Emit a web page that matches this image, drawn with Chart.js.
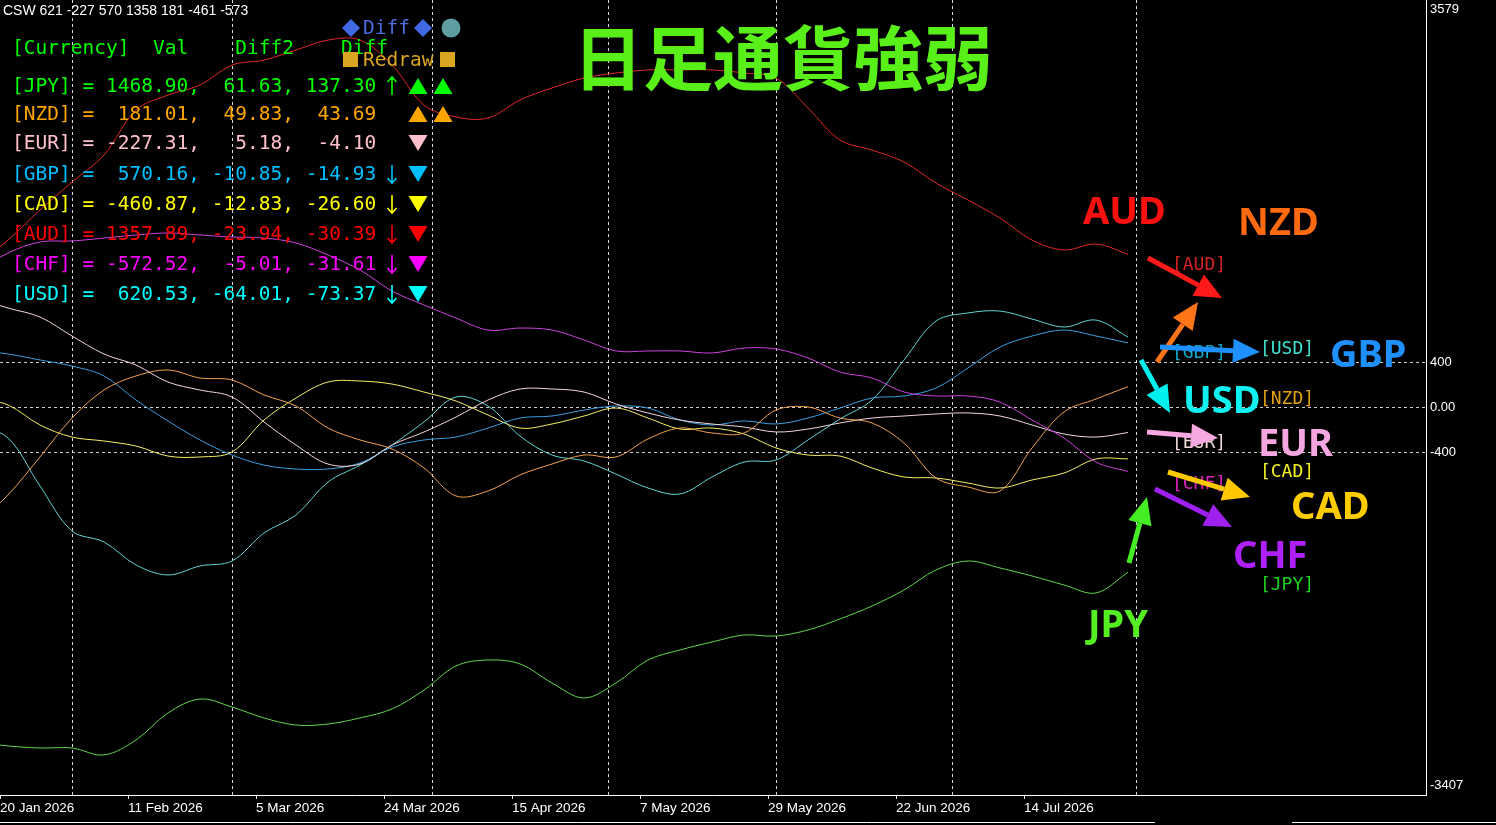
<!DOCTYPE html>
<html>
<head>
<meta charset="utf-8">
<title>日足通貨強弱</title>
<script src="https://cdn.jsdelivr.net/npm/chart.js@4.4.1/dist/chart.umd.min.js"></script>
<style>
  html, body { margin: 0; padding: 0; background: #000; overflow: hidden; }
  canvas { display: block; }
</style>
</head>
<body>
<canvas id="cswChart" width="1496" height="825"></canvas>
<script>
// bar index of every sample (daily bars)
const bars = [-3, 1, 5, 9, 13, 17, 21, 25, 29, 33, 37, 41, 45, 49, 53, 57, 61, 65, 69,
  73, 77, 81, 85, 89, 93, 97, 101, 105, 109, 113, 117, 121, 125, 129, 133, 137, 141];
const tickBars = [0, 16, 32, 48, 64, 80, 96, 112, 128];
const tickDates = ["20 Jan 2026", "11 Feb 2026", "5 Mar 2026", "24 Mar 2026", "15 Apr 2026",
  "7 May 2026", "29 May 2026", "22 Jun 2026", "14 Jul 2026"];
const monthBars = [9, 29, 54, 76, 97, 119, 142];
const yTicks = [3579, 400, 0, -400, -3407];

// strength lines
const aud = [1262, 1484, 1751, 2000, 2240, 2640, 2773, 2862, 3040, 3084, 3173, 3262, 3262, 3040, 2684, 2578, 2569,
  2729, 2836, 2924, 2969, 2996, 2996, 2996, 2969, 2924, 2658, 2373, 2284, 2178, 1991, 1840, 1680, 1484, 1396, 1449, 1358];
const gbp = [507, 471, 418, 364, 276, 62, -124, -293, -427, -516, -551, -551, -498, -356, -293, -267, -187, -98, -80,
  -27, 9, -9, -116, -160, -124, -151, -98, -9, 80, 98, 169, 347, 533, 631, 684, 631, 570];
const usd = [-160, -276, -702, -1102, -1200, -1404, -1493, -1413, -1369, -1120, -960, -667, -516, -338, -133, 89, 9,
  -258, -427, -480, -596, -720, -773, -622, -489, -471, -293, -107, 62, 418, 764, 836, 853, 782, 711, 773, 621];
const eur = [969, 880, 800, 631, 471, 373, 222, 151, 89, -133, -338, -507, -507, -338, -222, -89, 62, 160, 160, 133,
  27, -53, -116, -151, -178, -222, -196, -142, -98, -80, -62, -53, -80, -160, -240, -267, -227];
const cad = [80, 18, -160, -267, -302, -347, -436, -444, -400, -116, 80, 222, 231, 204, 133, 53, -71, -187, -151, -80,
  -9, -98, -196, -187, -240, -364, -427, -436, -542, -622, -631, -676, -720, -649, -587, -462, -461];
const nzd = [-1049, -782, -444, -98, 151, 276, 329, 258, 240, 107, 9, -187, -293, -373, -542, -791, -747, -604, -507,
  -427, -444, -284, -187, -231, -231, -27, 0, -98, -142, -320, -631, -711, -747, -364, -44, 71, 181];
const chf = [1200, 1369, 1467, 1476, 1502, 1529, 1547, 1529, 1511, 1502, 1458, 1351, 1218, 1031, 907, 791, 684, 702,
  684, 596, 498, 498, 498, 480, 524, 516, 436, 311, 258, 133, 98, 98, 44, -116, -276, -489, -573];
const jpy = [-2978, -3013, -3031, -3031, -3093, -2960, -2720, -2596, -2667, -2764, -2827, -2818, -2764, -2684, -2516,
  -2302, -2249, -2284, -2453, -2587, -2453, -2249, -2160, -2089, -2027, -2036, -1982, -1884, -1769, -1627, -1449,
  -1369, -1431, -1502, -1582, -1653, -1469];

// legend table
const currencies = ["JPY", "NZD", "EUR", "GBP", "CAD", "AUD", "CHF", "USD"];
const values = [1468.90, 181.01, -227.31, 570.16, -460.87, 1357.89, -572.52, 620.53];
const diff2 = [61.63, 49.83, 5.18, -10.85, -12.83, -23.94, -5.01, -64.01];
const diff1 = [137.30, 43.69, -4.10, -14.93, -26.60, -30.39, -31.61, -73.37];
const trend = ["up", "", "", "down", "down", "down", "down", "down"];
const marks = [["up", "up"], ["up", "up"], ["down"], ["down"], ["down"], ["down"], ["down"], ["down"]];
const textColors = ["#00ff00", "#ffa500", "#ffc0cb", "#00bfff", "#ffff00", "#ff0000", "#ff00ff", "#00ffff"];

const series = [
  { label: "AUD", data: aud, color: "#e02828" },
  { label: "JPY", data: jpy, color: "#5fd34a" },
  { label: "CHF", data: chf, color: "#cf3fdc" },
  { label: "NZD", data: nzd, color: "#f0a050" },
  { label: "CAD", data: cad, color: "#f2ee66" },
  { label: "EUR", data: eur, color: "#f2d4dc" },
  { label: "GBP", data: gbp, color: "#3a9ee0" },
  { label: "USD", data: usd, color: "#5fd3d3" },
];

const MONO = '"DejaVu Sans Mono", "Liberation Mono", monospace';
const xMax = 1426 / 8;
const rowY = [87, 115, 144, 175, 205, 235, 265, 295];

function mono(ctx, str, x, y, adv, color) {
  ctx.fillStyle = color;
  for (let i = 0; i < str.length; i++) {
    if (str[i] !== " ") ctx.fillText(str[i], x + i * adv + adv / 2, y);
  }
}

function tri(ctx, cx, cy, dir, color) {
  const w = 19, h = 16;
  ctx.fillStyle = color;
  ctx.beginPath();
  if (dir === "up") {
    ctx.moveTo(cx, cy - h / 2); ctx.lineTo(cx + w / 2, cy + h / 2); ctx.lineTo(cx - w / 2, cy + h / 2);
  } else {
    ctx.moveTo(cx, cy + h / 2); ctx.lineTo(cx + w / 2, cy - h / 2); ctx.lineTo(cx - w / 2, cy - h / 2);
  }
  ctx.closePath();
  ctx.fill();
}

// thin text-like arrow (↑ / ↓)
function thinArrow(ctx, cx, cy, dir, color) {
  const s = dir === "up" ? -1 : 1;
  ctx.strokeStyle = color;
  ctx.lineWidth = 1.6;
  ctx.beginPath();
  ctx.moveTo(cx, cy - 9 * s); ctx.lineTo(cx, cy + 9 * s);
  ctx.moveTo(cx - 4.5, cy + 4 * s); ctx.lineTo(cx, cy + 9 * s); ctx.lineTo(cx + 4.5, cy + 4 * s);
  ctx.stroke();
}

function arrow(ctx, x1, y1, x2, y2, color) {
  const hl = 27, hw = 24;
  const a = Math.atan2(y2 - y1, x2 - x1);
  const bx = x2 - hl * Math.cos(a), by = y2 - hl * Math.sin(a);
  ctx.strokeStyle = color;
  ctx.lineWidth = 5;
  ctx.beginPath(); ctx.moveTo(x1, y1); ctx.lineTo(bx, by); ctx.stroke();
  ctx.fillStyle = color;
  ctx.beginPath();
  ctx.moveTo(x2, y2);
  ctx.lineTo(bx + hw / 2 * Math.sin(a), by - hw / 2 * Math.cos(a));
  ctx.lineTo(bx - hw / 2 * Math.sin(a), by + hw / 2 * Math.cos(a));
  ctx.closePath();
  ctx.fill();
}

const overlay = {
  id: "overlay",
  afterDraw(chart) {
    const ctx = chart.ctx;
    ctx.save();

    // header line
    const last = [usd, eur, gbp, aud, nzd, cad, chf].map(a => Math.round(a[a.length - 1]));
    ctx.font = '14px "Liberation Sans", Arial, sans-serif';
    ctx.textAlign = "left";
    ctx.textBaseline = "middle";
    ctx.fillStyle = "#ffffff";
    ctx.fillText("CSW " + last.join(" "), 3, 11);

    // title
    ctx.font = 'bold 70px "Noto Sans CJK JP", sans-serif';
    ctx.fillStyle = "#58f018";
    ctx.fillText("日足通貨強弱", 573, 58);

    // legend table
    ctx.font = "19.5px " + MONO;
    ctx.textAlign = "center";
    const adv = 11.75;
    mono(ctx, "[Currency]  Val    Diff2    Diff", 12, 48.5, adv, "#00ff00");
    const fmt = v => v.toFixed(2).padStart(7);
    currencies.forEach((c, i) => {
      const y = rowY[i];
      const s = "[" + c + "] = " + fmt(values[i]) + "," + fmt(diff2[i]) + "," + fmt(diff1[i]);
      mono(ctx, s, 12, y, adv, textColors[i]);
      if (trend[i]) thinArrow(ctx, 392, y - 1, trend[i], textColors[i]);
      marks[i].forEach((m, k) => tri(ctx, 418 + 25 * k, y - 1, m, textColors[i]));
    });

    // buttons
    ctx.fillStyle = "#4169e1";
    [351, 423].forEach(cx => {
      ctx.beginPath();
      ctx.moveTo(cx, 19); ctx.lineTo(cx + 9, 28); ctx.lineTo(cx, 37); ctx.lineTo(cx - 9, 28);
      ctx.closePath(); ctx.fill();
    });
    mono(ctx, "Diff", 363, 29, adv, "#4a6ee0");
    ctx.fillStyle = "#5f9ea0";
    ctx.beginPath(); ctx.arc(451, 28, 9.5, 0, Math.PI * 2); ctx.fill();
    ctx.fillStyle = "#daa520";
    ctx.fillRect(343, 52, 15, 15);
    ctx.fillRect(440, 52, 15, 15);
    mono(ctx, "Redraw", 363, 61, adv, "#daa520");

    // small bracket labels
    ctx.font = "18px " + MONO;
    const small = [
      ["[AUD]", 1172, 265, "#d42020"], ["[GBP]", 1172, 353, "#10a8c8"], ["[USD]", 1260, 349, "#40e0d0"],
      ["[NZD]", 1260, 399, "#e0a010"], ["[EUR]", 1172, 443, "#f0d8d8"], ["[CAD]", 1260, 472, "#f0f020"],
      ["[CHF]", 1172, 484, "#e020c0"], ["[JPY]", 1260, 585, "#20d020"],
    ];
    small.forEach(([t, x, y, c]) => mono(ctx, t, x, y, 10.8, c));

    // arrows
    arrow(ctx, 1148, 258, 1222, 298, "#ff1a1a");
    arrow(ctx, 1157, 362, 1198, 302, "#ff7518");
    arrow(ctx, 1160, 347, 1260, 352, "#1e90ff");
    arrow(ctx, 1141, 360, 1170, 413, "#00f0f0");
    arrow(ctx, 1147, 432, 1218, 438, "#f8a8e0");
    arrow(ctx, 1168, 472, 1250, 497, "#ffc800");
    arrow(ctx, 1155, 489, 1232, 527, "#a020f0");
    arrow(ctx, 1129, 563, 1147, 497, "#44ee22");

    // big currency names
    ctx.font = 'bold 38px "Noto Sans", sans-serif';
    ctx.textAlign = "left";
    const big = [
      ["AUD", 1083, 213, "#ff1010"], ["NZD", 1238, 224, "#ff6a10"], ["GBP", 1330, 356, "#1e90ff"],
      ["USD", 1183, 402, "#10f0f0"], ["EUR", 1258, 445, "#f5a5e0"], ["CAD", 1291, 508, "#ffcc00"],
      ["CHF", 1233, 557, "#b020ff"], ["JPY", 1088, 626, "#55ee22"],
    ];
    big.forEach(([t, x, y, c]) => { ctx.fillStyle = c; ctx.fillText(t, x, y); });

    // terminal frame line under the axis
    ctx.strokeStyle = "#ffffff";
    ctx.lineWidth = 1;
    ctx.beginPath();
    ctx.moveTo(0, 822.5); ctx.lineTo(1155, 822.5);
    ctx.moveTo(1292, 822.5); ctx.lineTo(1496, 822.5);
    ctx.stroke();

    ctx.restore();
  },
};

const ctx = document.getElementById("cswChart").getContext("2d");
const cswChart = new Chart(ctx, {
  type: "line",
  data: {
    datasets: series.map(s => ({
      label: s.label,
      data: s.data.map((v, i) => ({ x: bars[i], y: v })),
      borderColor: s.color,
      borderWidth: 1,
      pointRadius: 0,
      tension: 0.35,
      fill: false,
    })),
  },
  options: {
    responsive: false,
    animation: false,
    layout: { padding: 0 },
    plugins: {
      legend: { display: false },
      tooltip: { enabled: false },
    },
    scales: {
      x: {
        type: "linear",
        position: "bottom",
        min: 0,
        max: xMax,
        afterBuildTicks: s => { s.ticks = tickBars.map(v => ({ value: v })); },
        afterFit: s => { s.height = 30; s.paddingLeft = 0; s.paddingRight = 0; },
        ticks: {
          color: "#ffffff",
          align: "start",
          padding: 1,
          maxRotation: 0,
          autoSkip: false,
          font: { family: '"Liberation Sans", Arial, sans-serif', size: 13.5 },
          callback: v => tickDates[tickBars.indexOf(v)],
        },
        grid: { drawOnChartArea: false, drawTicks: true, tickLength: 4, tickColor: "#ffffff" },
        border: { display: true, color: "#ffffff", width: 1 },
      },
      xg: {
        type: "linear",
        position: "bottom",
        min: 0,
        max: xMax,
        afterBuildTicks: s => { s.ticks = monthBars.map(v => ({ value: v })); },
        afterFit: s => { s.height = 0; s.paddingLeft = 0; s.paddingRight = 0; },
        ticks: { display: false },
        grid: { color: "rgba(255,255,255,0.85)", drawTicks: false },
        border: { display: false, dash: [3, 3] },
      },
      y: {
        position: "right",
        min: -3449,
        max: 3618,
        afterBuildTicks: s => { s.ticks = yTicks.map(v => ({ value: v })); },
        afterFit: s => { s.width = 70; s.paddingTop = 0; s.paddingBottom = 0; },
        ticks: {
          color: "#ffffff",
          padding: 4,
          font: { family: '"Liberation Sans", Arial, sans-serif', size: 13, lineHeight: 0.8 },
          callback: v => {
            if (v === 0) return "0.00";
            if (v === yTicks[0]) return ["", String(v)];
            if (v === yTicks[yTicks.length - 1]) return [String(v), ""];
            return String(v);
          },
        },
        grid: {
          color: c => (c.tick && [400, 0, -400].includes(c.tick.value)) ? "rgba(255,255,255,0.8)" : "rgba(0,0,0,0)",
          drawTicks: false,
        },
        border: { display: true, color: "#ffffff", width: 1, dash: [3, 3] },
      },
    },
  },
  plugins: [overlay],
});
</script>
</body>
</html>
